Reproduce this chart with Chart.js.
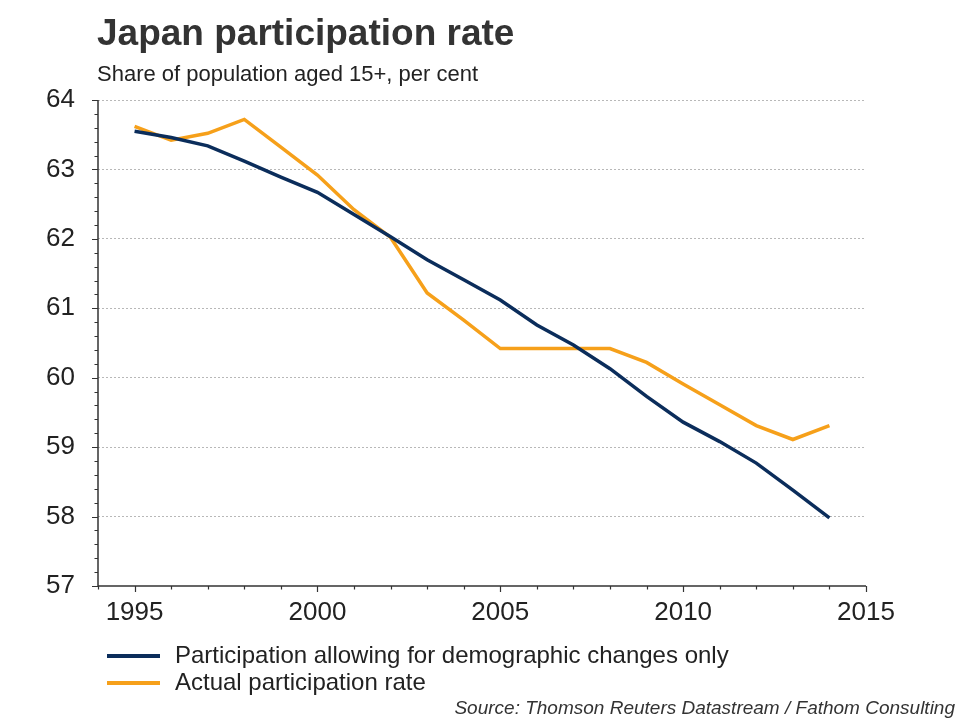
<!DOCTYPE html>
<html>
<head>
<meta charset="utf-8">
<script src="https://cdn.jsdelivr.net/npm/chart.js@4.4.1/dist/chart.umd.min.js"></script>
<style>
  html, body { margin: 0; padding: 0; background: #fff; }
  body { width: 964px; height: 724px; position: relative; overflow: hidden;
         font-family: 'Liberation Sans', Arial, sans-serif; color: #333; }
  #wrap { position: absolute; left: 0; top: 0; width: 964px; height: 724px; }
  .title { position: absolute; left: 97px; top: 12px; font-size: 37px; font-weight: bold; color: #333; white-space: nowrap; }
  .subtitle { position: absolute; left: 97px; top: 61px; font-size: 22px; color: #222; white-space: nowrap; }
  .source { position: absolute; right: 9px; top: 697px; font-size: 19px; font-style: italic; color: #333; white-space: nowrap; }
  .legend { position: absolute; left: 107px; top: 641px; font-size: 24px; color: #222; }
  .legend div { height: 27px; line-height: 27px; white-space: nowrap; }
  .legend span.sw { display: inline-block; width: 53px; height: 4px; vertical-align: middle; margin-right: 15px; position: relative; top: -1px; }
</style>
</head>
<body>
<div id="wrap"><canvas id="chart" width="964" height="724"></canvas></div>
<div class="title">Japan participation rate</div>
<div class="subtitle">Share of population aged 15+, per cent</div>
<div class="legend" id="legend"></div>
<div class="source">Source: Thomson Reuters Datastream / Fathom Consulting</div>
<script>
/* ---- Data ---- */
const years = [1995, 1996, 1997, 1998, 1999, 2000, 2001, 2002, 2003, 2004,
               2005, 2006, 2007, 2008, 2009, 2010, 2011, 2012, 2013, 2014];
const demographicOnly = [63.55, 63.46, 63.34, 63.12, 62.89, 62.67, 62.35, 62.03, 61.70, 61.41,
                         61.12, 60.76, 60.47, 60.13, 59.73, 59.36, 59.08, 58.77, 58.38, 57.98];
const actualRate = [63.62, 63.42, 63.52, 63.72, 63.32, 62.92, 62.42, 62.02, 61.22, 60.83,
                    60.42, 60.42, 60.42, 60.42, 60.22, 59.91, 59.61, 59.31, 59.11, 59.31];
const seriesNames = ['Participation allowing for demographic changes only', 'Actual participation rate'];
const seriesColors = ['#0b2d5b', '#f6a01a'];
const yTicks = [57, 58, 59, 60, 61, 62, 63, 64];
const xTickLabels = [1995, 2000, 2005, 2010, 2015];

/* ---- Axis lines and tick marks ---- */
const axisPlugin = {
  id: 'axisTicks',
  afterDraw(chart) {
    const { ctx, chartArea, scales } = chart;
    const x = scales.x, y = scales.y;
    ctx.save();
    ctx.setLineDash([]);
    ctx.strokeStyle = '#333';
    ctx.lineWidth = 1.5;
    ctx.beginPath();
    ctx.moveTo(chartArea.left, chartArea.top);
    ctx.lineTo(chartArea.left, chartArea.bottom);
    ctx.lineTo(chartArea.right, chartArea.bottom);
    ctx.stroke();
    ctx.lineWidth = 1.2;
    ctx.beginPath();
    for (let v = 57; v <= 64.001; v += 0.2) {
      const py = Math.round(y.getPixelForValue(v)) + 0.5;
      const major = Math.abs(v - Math.round(v)) < 0.01;
      ctx.moveTo(chartArea.left, py);
      ctx.lineTo(chartArea.left - (major ? 6 : 3.5), py);
    }
    for (let yr = 1994; yr <= 2015; yr++) {
      const px = Math.round(x.getPixelForValue(yr)) + 0.5;
      const major = yr % 5 === 0;
      ctx.moveTo(px, chartArea.bottom);
      ctx.lineTo(px, chartArea.bottom + (major ? 6 : 3.5));
    }
    ctx.stroke();
    ctx.restore();
  }
};

new Chart(document.getElementById('chart'), {
  type: 'line',
  data: {
    datasets: [
      {
        label: seriesNames[0],
        data: years.map((yr, i) => ({ x: yr, y: demographicOnly[i] })),
        borderColor: seriesColors[0],
        borderWidth: 3.5,
        pointRadius: 0,
        tension: 0,
      },
      {
        label: seriesNames[1],
        data: years.map((yr, i) => ({ x: yr, y: actualRate[i] })),
        borderColor: seriesColors[1],
        borderWidth: 3.5,
        pointRadius: 0,
        tension: 0,
      },
    ],
  },
  options: {
    responsive: false,
    animation: false,
    layout: { padding: { left: 0, right: 98, top: 100, bottom: 0 } },
    plugins: { legend: { display: false }, tooltip: { enabled: false } },
    scales: {
      x: {
        type: 'linear',
        min: 1994,
        max: 2015,
        afterBuildTicks: (s) => { s.ticks = xTickLabels.map(v => ({ value: v })); },
        afterFit: (s) => { s.height = 138; },
        ticks: {
          color: '#222',
          padding: 11,
          maxRotation: 0,
          autoSkip: false,
          font: { family: "'Liberation Sans', Arial, sans-serif", size: 26 },
          callback: (v) => String(v),
        },
        grid: { display: false, drawTicks: false },
        border: { display: false },
      },
      y: {
        min: 57,
        max: 64,
        afterBuildTicks: (s) => { s.ticks = yTicks.map(v => ({ value: v })); },
        afterFit: (s) => { s.width = 98; },
        ticks: {
          color: '#222',
          padding: 23,
          autoSkip: false,
          font: { family: "'Liberation Sans', Arial, sans-serif", size: 26 },
        },
        grid: {
          color: (c) => c.tick && c.tick.value === 57 ? 'rgba(0,0,0,0)' : '#b8b8b8',
          lineWidth: 1,
          drawTicks: false,
        },
        border: { display: false, dash: [2, 2] },
      },
    },
  },
  plugins: [axisPlugin],
});

/* ---- Legend ---- */
const legend = document.getElementById('legend');
seriesNames.forEach((name, i) => {
  const row = document.createElement('div');
  row.innerHTML = '<span class="sw" style="background:' + seriesColors[i] + '"></span>' + name;
  legend.appendChild(row);
});
</script>
</body>
</html>
